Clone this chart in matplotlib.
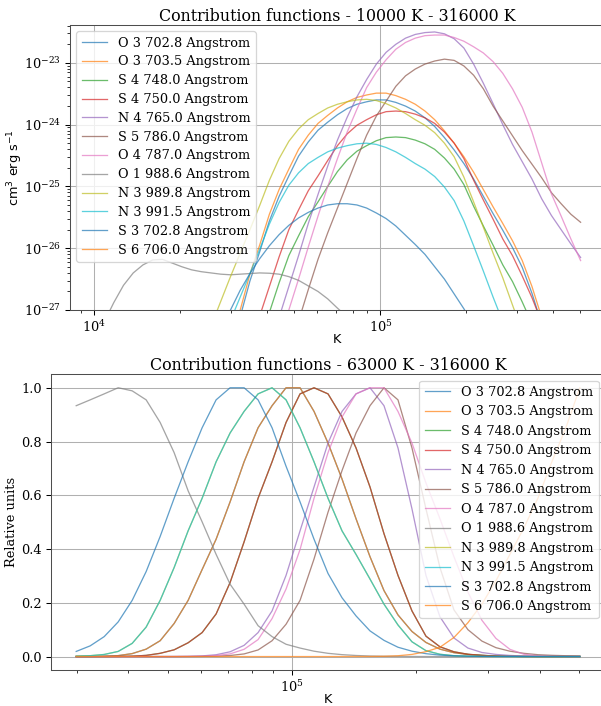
import numpy as np
import matplotlib
matplotlib.use("Agg")
import matplotlib.pyplot as plt

plt.rcParams['font.family'] = 'serif'
plt.rcParams['axes.edgecolor'] = '0.3'

# temperature grid, log10(T / K)
log_temp = [4.000, 4.034, 4.068, 4.102, 4.136, 4.170, 4.204, 4.238, 4.272, 4.306,
            4.340, 4.374, 4.408, 4.442, 4.476, 4.510, 4.544, 4.578, 4.612, 4.646,
            4.680, 4.714, 4.748, 4.782, 4.816, 4.850, 4.884, 4.918, 4.952, 4.986,
            5.020, 5.054, 5.088, 5.122, 5.156, 5.190, 5.224, 5.258, 5.292, 5.326,
            5.360, 5.394, 5.428, 5.462, 5.496, 5.530, 5.564, 5.598, 5.632, 5.666,
            5.700]

labels = ['O 3 702.8 Angstrom', 'O 3 703.5 Angstrom', 'S 4 748.0 Angstrom',
          'S 4 750.0 Angstrom', 'N 4 765.0 Angstrom', 'S 5 786.0 Angstrom',
          'O 4 787.0 Angstrom', 'O 1 988.6 Angstrom', 'N 3 989.8 Angstrom',
          'N 3 991.5 Angstrom', 'S 3 702.8 Angstrom', 'S 6 706.0 Angstrom']

# log10 of the contribution function, cm^3 erg s^-1
o3_7028 = [-35.31, -34.76, -34.21, -33.66, -33.11, -32.56, -32.01, -31.46, -30.91, -30.36,
           -29.81, -29.26, -28.71, -28.16, -27.61, -27.11, -26.53, -26.06, -25.56, -25.16,
           -24.83, -24.51, -24.28, -24.09, -23.96, -23.84, -23.74, -23.67, -23.63, -23.60,
           -23.60, -23.64, -23.70, -23.78, -23.89, -24.03, -24.21, -24.41, -24.63, -24.88,
           -25.16, -25.44, -25.71, -25.99, -26.31, -26.73, -27.23, -27.76, -28.31, -28.86,
           -29.41]
o3_7035 = [-35.20, -34.65, -34.10, -33.55, -33.00, -32.45, -31.90, -31.35, -30.80, -30.25,
           -29.70, -29.15, -28.60, -28.05, -27.50, -27.00, -26.42, -25.95, -25.45, -25.05,
           -24.72, -24.40, -24.17, -23.98, -23.85, -23.73, -23.63, -23.56, -23.52, -23.49,
           -23.49, -23.53, -23.59, -23.67, -23.78, -23.92, -24.10, -24.30, -24.52, -24.77,
           -25.05, -25.33, -25.60, -25.88, -26.20, -26.62, -27.12, -27.65, -28.20, -28.75,
           -29.30]
s4_7480 = [-36.02, -35.52, -35.02, -34.52, -34.02, -33.52, -33.02, -32.52, -32.02, -31.52,
           -31.02, -30.52, -30.02, -29.52, -29.02, -28.52, -28.02, -27.52, -27.04, -26.56,
           -26.12, -25.80, -25.49, -25.25, -25.00, -24.76, -24.57, -24.43, -24.34, -24.26,
           -24.21, -24.20, -24.21, -24.25, -24.31, -24.40, -24.54, -24.72, -24.97, -25.32,
           -25.64, -25.95, -26.27, -26.54, -26.87, -27.22, -27.62, -28.07, -28.52, -28.97,
           -29.42]
s4_7500 = [-35.60, -35.10, -34.60, -34.10, -33.60, -33.10, -32.60, -32.10, -31.60, -31.10,
           -30.60, -30.10, -29.60, -29.10, -28.60, -28.10, -27.60, -27.10, -26.62, -26.14,
           -25.70, -25.38, -25.07, -24.83, -24.58, -24.34, -24.15, -24.01, -23.92, -23.84,
           -23.79, -23.78, -23.79, -23.83, -23.89, -23.98, -24.12, -24.30, -24.55, -24.90,
           -25.22, -25.53, -25.85, -26.12, -26.45, -26.80, -27.20, -27.65, -28.10, -28.55,
           -29.00]
n4_7650 = [-36.60, -36.10, -35.60, -35.10, -34.60, -34.10, -33.60, -33.10, -32.60, -32.10,
           -31.60, -31.10, -30.60, -30.10, -29.60, -29.10, -28.60, -28.10, -27.60, -27.12,
           -26.62, -26.12, -25.60, -25.13, -24.67, -24.25, -23.88, -23.55, -23.27, -23.02,
           -22.83, -22.70, -22.60, -22.54, -22.51, -22.50, -22.53, -22.61, -22.76, -23.02,
           -23.33, -23.66, -24.00, -24.32, -24.60, -24.88, -25.20, -25.47, -25.70, -25.93,
           -26.15]
s5_7860 = [-37.70, -37.20, -36.70, -36.20, -35.70, -35.20, -34.70, -34.20, -33.70, -33.20,
           -32.70, -32.20, -31.70, -31.20, -30.70, -30.20, -29.70, -29.20, -28.70, -28.20,
           -27.70, -27.18, -26.67, -26.18, -25.75, -25.35, -24.95, -24.55, -24.17, -23.86,
           -23.62, -23.38, -23.21, -23.10, -23.02, -22.97, -22.94, -22.96, -23.05, -23.20,
           -23.42, -23.70, -23.94, -24.18, -24.42, -24.64, -24.86, -25.10, -25.28, -25.45,
           -25.58]
o4_7870 = [-37.00, -36.50, -36.00, -35.50, -35.00, -34.50, -34.00, -33.50, -33.00, -32.50,
           -32.00, -31.50, -31.00, -30.50, -30.00, -29.50, -29.00, -28.50, -28.00, -27.50,
           -27.00, -26.50, -25.98, -25.48, -25.00, -24.55, -24.12, -23.75, -23.40, -23.15,
           -22.95, -22.78, -22.67, -22.60, -22.56, -22.55, -22.55, -22.59, -22.65, -22.74,
           -22.84, -22.98, -23.17, -23.42, -23.72, -24.12, -24.62, -25.12, -25.48, -25.85,
           -26.20]
o1_9886 = [-27.55, -27.20, -26.88, -26.60, -26.40, -26.27, -26.19, -26.18, -26.24, -26.30,
           -26.35, -26.38, -26.40, -26.42, -26.43, -26.42, -26.41, -26.40, -26.405, -26.42,
           -26.46, -26.52, -26.61, -26.70, -26.82, -26.97, -27.11, -27.34, -27.53, -27.74,
           -27.90, -28.10, -28.32, -28.55, -28.80, -29.10, -29.40, -29.70, -30.00, -30.30,
           -30.60, -30.90, -31.20, -31.50, -31.80, -32.10, -32.40, -32.70, -33.00, -33.30,
           -33.60]
n3_9898 = [-32.05, -31.65, -31.25, -30.85, -30.45, -30.05, -29.65, -29.25, -28.85, -28.45,
           -28.05, -27.65, -27.26, -26.86, -26.46, -26.08, -25.70, -25.31, -24.90, -24.55,
           -24.27, -24.07, -23.92, -23.82, -23.73, -23.67, -23.63, -23.60, -23.59, -23.61,
           -23.66, -23.73, -23.82, -23.92, -24.01, -24.13, -24.30, -24.52, -24.85, -25.25,
           -25.66, -26.08, -26.48, -26.92, -27.35, -27.80, -28.25, -28.70, -29.15, -29.60,
           -30.05]
n3_9915 = [-32.76, -32.36, -31.96, -31.56, -31.16, -30.76, -30.36, -29.96, -29.56, -29.16,
           -28.76, -28.36, -27.97, -27.57, -27.17, -26.79, -26.41, -26.02, -25.61, -25.26,
           -24.98, -24.78, -24.63, -24.53, -24.44, -24.38, -24.34, -24.31, -24.30, -24.32,
           -24.37, -24.44, -24.53, -24.63, -24.72, -24.84, -25.01, -25.23, -25.56, -25.96,
           -26.37, -26.79, -27.19, -27.63, -28.06, -28.51, -28.96, -29.41, -29.86, -30.31,
           -30.76]
s3_7028 = [-32.60, -32.20, -31.80, -31.40, -31.00, -30.60, -30.20, -29.80, -29.40, -29.00,
           -28.60, -28.20, -27.80, -27.38, -27.00, -26.68, -26.41, -26.17, -25.96, -25.78,
           -25.63, -25.51, -25.42, -25.35, -25.30, -25.28, -25.28, -25.30, -25.35, -25.43,
           -25.52, -25.64, -25.79, -25.94, -26.10, -26.30, -26.50, -26.74, -26.98, -27.25,
           -27.55, -27.85, -28.15, -28.45, -28.75, -29.05, -29.35, -29.65, -29.95, -30.25,
           -30.55]
s6_7060 = [-48.80, -48.30, -47.80, -47.30, -46.80, -46.30, -45.80, -45.30, -44.80, -44.30,
           -43.80, -43.30, -42.80, -42.30, -41.80, -41.30, -40.80, -40.30, -39.80, -39.30,
           -38.80, -38.30, -37.80, -37.30, -36.80, -36.30, -35.80, -35.30, -34.80, -34.30,
           -33.80, -33.30, -32.80, -32.30, -31.80, -31.30, -30.80, -30.32, -29.90, -29.54,
           -29.26, -28.95, -28.70, -28.51, -28.35, -28.22, -28.12, -28.03, -27.94, -27.87,
           -27.80]

lines = [o3_7028, o3_7035, s4_7480, s4_7500, n4_7650, s5_7860,
         o4_7870, o1_9886, n3_9898, n3_9915, s3_7028, s6_7060]

temps = 10 ** np.array(log_temp)
goft = [10 ** np.array(g) for g in lines]

fig = plt.figure(figsize=(601 / 93, 706 / 93), dpi=93)
ax1 = fig.add_axes([0.1165, 0.5609, 0.890, 0.4037])
ax2 = fig.add_axes([0.0849, 0.051, 0.9218, 0.4188])

# absolute contribution functions
for g, lab in zip(goft, labels):
    ax1.plot(temps, g, lw=1, alpha=0.7, label=lab)
ax1.set_xscale('log')
ax1.set_yscale('log')
ax1.set_ylim(1e-27, 4.1e-23)
ax1.grid(True)
ax1.set_title('Contribution functions - 10000 K - 316000 K', fontsize=12.3, pad=0)
ax1.set_xlabel(r'$\mathrm{K}$')
ax1.set_ylabel(r'$\mathrm{cm^3\ erg\ s^{-1}}$')
ax1.xaxis.set_label_coords(0.5, -0.08)
ax1.yaxis.set_label_coords(-0.084, 0.5)
ax1.legend(loc='upper left', fontsize=10, labelspacing=0.45)

# normalised over the hot part of the grid
hot = temps >= 2.9e4
for g, lab in zip(goft, labels):
    ax2.plot(temps[hot], g[hot] / g[hot].max(), lw=1, alpha=0.7, label=lab)
ax2.set_xscale('log')
ax2.grid(True)
ax2.set_title('Contribution functions - 63000 K - 316000 K', fontsize=12.3, pad=0)
ax2.set_xlabel(r'$\mathrm{K}$')
ax2.set_ylabel('Relative units')
ax2.xaxis.set_label_coords(0.5, -0.077)
ax2.yaxis.set_label_coords(-0.059, 0.5)
ax2.legend(loc='upper right', fontsize=10)

fig.savefig('out.png', dpi=93)
